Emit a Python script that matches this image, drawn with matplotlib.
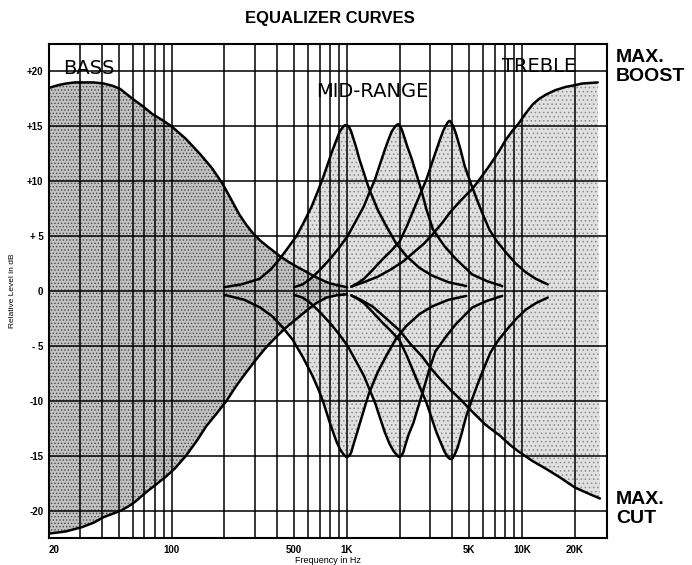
import matplotlib
matplotlib.use("Agg")
import matplotlib.pyplot as plt
from matplotlib.ticker import NullFormatter

plt.rcParams['font.family'] = ['Liberation Sans', 'DejaVu Sans']
plt.rcParams['hatch.linewidth'] = 0.6

# bass shelf (Hz, dB)
bass_boost_f = [20, 22.5, 25, 28, 31, 36, 41, 46, 51, 60, 69, 78, 88, 100, 120, 145, 170, 195, 218,
                243, 265, 290, 320, 350, 413, 460, 520, 580, 640, 720, 800, 900, 1000]
bass_boost_db = [18.5, 18.75, 18.9, 19.0, 19.0, 19.0, 18.9, 18.7, 18.4, 17.5, 16.8, 16.1, 15.6, 15.0, 13.9,
                 12.5, 11.2, 9.8, 8.4, 7.0, 6.1, 5.3, 4.6, 4.1, 3.2, 2.7, 2.2, 1.8, 1.4, 1.0, 0.7, 0.5, 0.35]
bass_cut_f = [20, 25, 31, 36, 41, 46, 51.5, 57, 62, 72, 82, 93, 104, 121, 140, 158, 180, 206, 235,
              267, 305, 348, 400, 452, 520, 588, 670, 765, 870, 1000]
bass_cut_db = [-22.1, -21.9, -21.5, -21.1, -20.6, -20.3, -20.0, -19.6, -19.2, -18.3, -17.6, -16.9, -16.2,
               -15.0, -13.6, -12.3, -11.2, -10.0, -8.6, -7.4, -6.2, -5.1, -4.1, -3.3, -2.5, -1.8, -1.1,
               -0.6, -0.4, -0.3]

# mid-range bells
mid1_boost_f = [200, 250, 317, 370, 413, 460, 516, 570, 630, 680, 727, 780, 832, 875, 910, 945, 975,
                1000, 1025, 1055, 1080, 1130, 1180, 1260, 1340, 1500, 1680, 1900, 2180, 2600, 3070, 3800, 4800]
mid1_boost_db = [0.35, 0.6, 1.1, 2.0, 2.9, 3.9, 5.0, 6.3, 7.7, 9.0, 10.2, 11.6, 12.9, 13.8, 14.5, 14.9,
                 15.1, 15.1, 15.0, 14.6, 14.1, 13.1, 12.0, 10.6, 9.3, 7.4, 5.9, 4.4, 3.2, 2.1, 1.4, 0.8, 0.45]
mid1_cut_f = [200, 260, 320, 375, 430, 489, 560, 636, 690, 733, 800, 872, 920, 960, 990, 1010, 1035,
              1060, 1100, 1150, 1200, 1270, 1340, 1500, 1680, 1900, 2180, 2600, 3070, 3800, 4800]
mid1_cut_db = [-0.35, -0.8, -1.5, -2.3, -3.3, -4.4, -6.0, -7.7, -9.0, -10.1, -12.0, -13.7, -14.5, -14.9,
               -15.1, -15.1, -15.0, -14.7, -13.8, -12.8, -11.8, -10.5, -9.3, -7.4, -5.9, -4.4, -3.2, -2.1,
               -1.4, -0.8, -0.45]

mid2_boost_f = [500, 560, 620, 700, 800, 900, 1010, 1120, 1250, 1348, 1450, 1550, 1650, 1730, 1800, 1870,
                1920, 1960, 2000, 2060, 2120, 2220, 2350, 2500, 2650, 2850, 3100, 3600, 4200, 5200, 6300, 7700]
mid2_boost_db = [0.35, 0.6, 1.1, 1.9, 2.9, 3.9, 5.0, 6.3, 7.7, 9.0, 10.2, 11.6, 12.9, 13.8, 14.5, 14.9,
                 15.1, 15.2, 15.1, 14.7, 14.1, 13.1, 12.0, 10.6, 9.3, 7.4, 5.6, 4.1, 2.9, 1.5, 0.9, 0.45]
mid2_cut_f = [500, 560, 620, 700, 800, 900, 1010, 1120, 1250, 1350, 1450, 1550, 1650, 1750, 1850, 1920,
              1970, 2010, 2050, 2100, 2150, 2250, 2400, 2550, 2700, 2950, 3200, 3700, 4200, 5200, 6300, 7700]
mid2_cut_db = [-0.35, -0.6, -1.1, -1.9, -2.9, -3.9, -5.0, -6.3, -7.7, -9.0, -10.2, -11.6, -12.9, -13.9,
               -14.6, -14.9, -15.1, -15.1, -15.0, -14.7, -14.1, -13.1, -12.0, -10.6, -9.3, -7.2, -5.5,
               -4.1, -3.0, -1.5, -0.9, -0.45]

mid3_boost_f = [1060, 1150, 1250, 1400, 1600, 1800, 2000, 2200, 2450, 2650, 2850, 3050, 3250, 3400, 3550,
                3680, 3780, 3850, 3920, 4050, 4200, 4450, 4700, 5100, 5500, 6000, 6500, 7200, 8100, 9200,
                10500, 12000, 14000]
mid3_boost_db = [0.4, 0.7, 1.1, 1.9, 2.9, 3.7, 4.5, 5.9, 7.7, 9.0, 10.2, 11.6, 12.9, 13.8, 14.6, 15.1,
                 15.4, 15.5, 15.4, 15.0, 14.3, 12.9, 11.4, 9.8, 8.4, 6.9, 5.6, 4.5, 3.5, 2.5, 1.7, 1.1, 0.6]
mid3_cut_f = [1060, 1150, 1250, 1400, 1600, 1800, 2000, 2200, 2450, 2650, 2850, 3050, 3250, 3450, 3600,
              3750, 3880, 3950, 4020, 4150, 4300, 4550, 4800, 5200, 5600, 6100, 6600, 7300, 8200, 9300,
              10500, 12000, 14000]
mid3_cut_db = [-0.4, -0.7, -1.1, -1.9, -2.9, -3.7, -4.5, -5.9, -7.7, -9.0, -10.2, -11.6, -12.9, -13.9,
               -14.6, -15.1, -15.3, -15.3, -15.2, -14.8, -14.2, -12.8, -11.4, -9.8, -8.4, -6.9, -5.6,
               -4.5, -3.5, -2.5, -1.7, -1.1, -0.6]

# treble shelf
treble_boost_f = [1060, 1250, 1500, 1800, 2100, 2400, 2750, 3100, 3500, 3900, 4500, 5200, 5800, 6500,
                  7300, 8100, 8800, 9500, 10500, 11500, 12500, 13700, 15500, 17800, 20000, 22000, 24500, 27000]
treble_boost_db = [0.4, 0.8, 1.3, 2.0, 2.7, 3.5, 4.3, 5.2, 6.2, 7.2, 8.3, 9.3, 10.3, 11.4, 12.6, 13.8,
                   14.6, 15.2, 16.2, 17.0, 17.5, 17.9, 18.3, 18.6, 18.75, 18.9, 18.95, 19.0]
treble_cut_f = [1060, 1200, 1400, 1650, 2000, 2300, 2700, 3000, 3400, 3900, 4400, 5200, 6200, 7500, 8500,
                9500, 11500, 13700, 16500, 20000, 23500, 27800]
treble_cut_db = [-0.4, -0.8, -1.4, -2.4, -3.6, -4.8, -6.0, -7.0, -8.0, -9.0, -9.8, -11.0, -12.2, -13.2,
                 -14.0, -14.6, -15.5, -16.2, -17.0, -17.9, -18.4, -18.9]

x_ticks = [20, 100, 500, 1000, 5000, 10000, 20000]
x_tick_labels = ['20', '100', '500', '1K', '5K', '10K', '20K']
grid_freqs = [30, 40, 50, 60, 70, 80, 90, 100, 200, 300, 400, 500, 600, 700, 800, 900,
              1000, 2000, 3000, 4000, 5000, 6000, 7000, 8000, 9000, 10000, 20000]
y_ticks = [-20, -15, -10, -5, 0, 5, 10, 15, 20]
y_tick_labels = ['-20', '-15', '-10', '- 5', '0', '+ 5', '+10', '+15', '+20']

fig = plt.figure(figsize=(6.92, 5.65), dpi=100)
ax = fig.add_axes([49 / 692, 27 / 565, 558 / 692, 494 / 565])
ax.set_xscale('log')
ax.set_xlim(20, 30500)
ax.set_ylim(-22.5, 22.5)

# stippled areas
mids = [(mid1_boost_f, mid1_boost_db), (mid1_cut_f, mid1_cut_db),
        (mid2_boost_f, mid2_boost_db), (mid2_cut_f, mid2_cut_db),
        (mid3_boost_f, mid3_boost_db), (mid3_cut_f, mid3_cut_db)]
light = dict(facecolor='#e0e0e0', edgecolor='#8a8a8a', hatch='....', linewidth=0, zorder=1)
ax.fill(treble_boost_f + treble_cut_f[::-1], treble_boost_db + treble_cut_db[::-1], **light)
for f, db in mids:
    ax.fill_between(f, 0, db, **light)
ax.fill(bass_boost_f + bass_cut_f[::-1], bass_boost_db + bass_cut_db[::-1],
        facecolor='#c2c2c2', edgecolor='#4a4a4a', hatch='.....', linewidth=0, zorder=1)

# curves
curves = [(bass_boost_f, bass_boost_db), (bass_cut_f, bass_cut_db),
          (treble_boost_f, treble_boost_db), (treble_cut_f, treble_cut_db)] + mids
for f, db in curves:
    ax.plot(f, db, color='black', lw=1.8, solid_capstyle='round', solid_joinstyle='round', zorder=3)

# grid
ax.set_xticks(x_ticks)
ax.set_xticklabels(x_tick_labels)
ax.set_xticks(grid_freqs, minor=True)
ax.xaxis.set_minor_formatter(NullFormatter())
ax.set_yticks(y_ticks)
ax.set_yticklabels(y_tick_labels)
ax.grid(True, which='both', axis='x', color='black', lw=1.1, zorder=2)
ax.grid(True, which='major', axis='y', color='black', lw=1.1, zorder=2)
ax.tick_params(which='both', length=0)
ax.tick_params(axis='x', pad=5, labelsize=7)
ax.tick_params(axis='y', pad=4, labelsize=7)
for lab in ax.get_xticklabels() + ax.get_yticklabels():
    lab.set_fontweight('bold')
ax.get_xticklabels()[0].set_horizontalalignment('left')
for s in ax.spines.values():
    s.set_linewidth(1.5)

ax.set_xlabel('Frequency in Hz', fontsize=6.5, labelpad=1)
ax.set_ylabel('Relative Level in dB', fontsize=6, labelpad=8)

# labels
fig.text(330 / 692, 1 - 19 / 565, 'EQUALIZER CURVES', ha='center', va='center',
         fontsize=12, fontweight='bold')
fig.text(63 / 692, 1 - 68 / 565, 'BASS', ha='left', va='center', fontsize=14,
         family='DejaVu Sans')
fig.text(372 / 692, 1 - 92 / 565, 'MID-RANGE', ha='center', va='center', fontsize=14,
         family='DejaVu Sans')
fig.text(502 / 692, 1 - 67 / 565, 'TREBLE', ha='left', va='center', fontsize=14,
         family='DejaVu Sans')
fig.text(616 / 692, 1 - 67 / 565, 'MAX.\nBOOST', ha='left', va='center', fontsize=14,
         fontweight='bold', linespacing=1.2)
fig.text(616 / 692, 1 - 509 / 565, 'MAX.\nCUT', ha='left', va='center', fontsize=14,
         fontweight='bold', linespacing=1.2)

fig.savefig('out.png', dpi=100)
